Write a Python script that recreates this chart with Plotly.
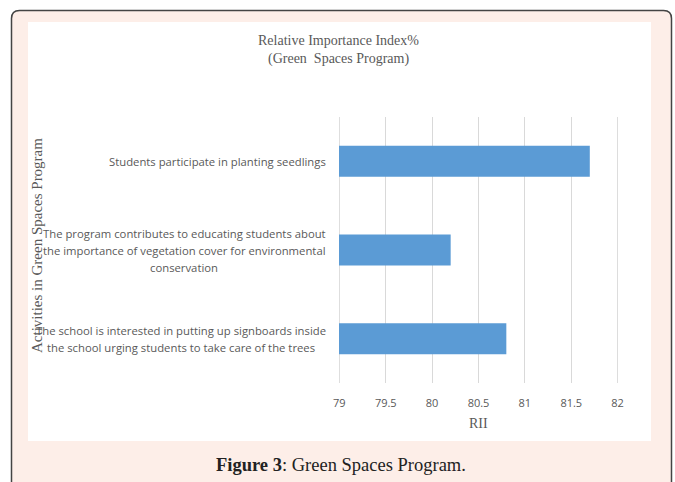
import plotly.graph_objects as go

# Activities (top to bottom) and their Relative Importance Index values
activities = [
    "Students participate in planting seedlings",
    "The program contributes to educating students about<br>the importance of vegetation cover for environmental<br>conservation",
    "The school is interested in putting up signboards inside<br>the school urging students to take care of the trees",
]
rii_values = [81.7, 80.2, 80.8]
x_ticks = [79, 79.5, 80, 80.5, 81, 81.5, 82]
x_tick_labels = ["79", "79.5", "80", "80.5", "81", "81.5", "82"]

W, H = 675, 482
ML, MR, MT, MB = 339, 57, 117, 99
PW, PH = W - ML - MR, H - MT - MB


def px(x):
    return (x - ML) / PW


def py(y):
    return (H - MB - y) / PH


SANS = "Open Sans, sans-serif"
SERIF = "Liberation Serif, Times New Roman, serif"
GREY = "#595959"
GRID = "#d9d9d9"

fig = go.Figure(
    go.Bar(
        x=rii_values,
        y=activities,
        orientation="h",
        marker=dict(color="#5b9bd5", line=dict(width=0)),
        width=0.35,
        hoverinfo="x+y",
    )
)

# Page frame: rounded pink panel with a white chart area
r = 8
x0, x1, y0, y1 = 11.5, 671.5, 10.5, 495
frame = (
    f"M {px(x0)},{py(y0 + r)} "
    f"Q {px(x0)},{py(y0)} {px(x0 + r)},{py(y0)} "
    f"L {px(x1 - r)},{py(y0)} "
    f"Q {px(x1)},{py(y0)} {px(x1)},{py(y0 + r)} "
    f"L {px(x1)},{py(y1)} L {px(x0)},{py(y1)} Z"
)
shapes = [
    dict(type="path", path=frame, xref="paper", yref="paper",
         fillcolor="#fdeee8", line=dict(color="#444444", width=1.5), layer="below"),
    dict(type="rect", xref="paper", yref="paper",
         x0=px(28), x1=px(651), y0=py(441), y1=py(22),
         fillcolor="white", line=dict(width=0), layer="below"),
]
# Gridlines at the two ends of the value axis
for edge in (x_ticks[0], x_ticks[-1]):
    shapes.append(dict(type="line", xref="x", yref="paper", x0=edge, x1=edge,
                       y0=0, y1=1, line=dict(color=GRID, width=1), layer="below"))

annotations = []

# Category labels, each line centred within its block
label_centres = [217, 184, 181.5]
line_step = 17
for cat, cx in zip(activities, label_centres):
    lines = cat.split("<br>")
    n = len(lines)
    for i, line in enumerate(lines):
        annotations.append(dict(
            text=line, xref="paper", yref="y", x=px(cx), y=cat,
            xanchor="center", yanchor="middle", showarrow=False,
            yshift=(n - 1) / 2 * line_step - i * line_step,
            font=dict(family=SANS, size=11.3, color=GREY),
        ))

# Chart title
for text, ty in [("Relative Importance Index%", 40), ("(Green  Spaces Program)", 59)]:
    annotations.append(dict(
        text=text, xref="paper", yref="paper", x=px(338), y=py(ty),
        xanchor="center", yanchor="middle", showarrow=False,
        font=dict(family=SERIF, size=14, color=GREY),
    ))

# Axis titles
annotations.append(dict(
    text="Activities in Green Spaces Program", xref="paper", yref="paper",
    x=px(37), y=py(246), textangle=-90, xanchor="center", yanchor="middle",
    showarrow=False, font=dict(family=SERIF, size=15, color=GREY),
))
annotations.append(dict(
    text="RII", xref="paper", yref="paper", x=px(478), y=py(423),
    xanchor="center", yanchor="middle", showarrow=False,
    font=dict(family=SERIF, size=14, color=GREY),
))

# Figure caption
annotations.append(dict(
    text="<b>Figure 3</b>: Green Spaces Program.", xref="paper", yref="paper",
    x=px(341), y=py(465), xanchor="center", yanchor="middle", showarrow=False,
    font=dict(family=SERIF, size=18.5, color="#222222"),
))

fig.update_layout(
    width=W, height=H,
    margin=dict(l=ML, r=MR, t=MT, b=MB, pad=0),
    paper_bgcolor="white", plot_bgcolor="rgba(0,0,0,0)",
    showlegend=False,
    shapes=shapes,
    annotations=annotations,
    xaxis=dict(
        range=[78.996, 82.004], tickvals=x_ticks, ticktext=x_tick_labels,
        showgrid=True, gridcolor=GRID, gridwidth=1,
        zeroline=False, showline=False, ticks="",
        ticklabelstandoff=12,
        tickfont=dict(family=SANS, size=11, color=GREY),
    ),
    yaxis=dict(
        autorange="reversed", showticklabels=False, showgrid=False,
        zeroline=False, showline=False, ticks="",
    ),
    bargap=0.65,
)

fig.write_html("out.html")
